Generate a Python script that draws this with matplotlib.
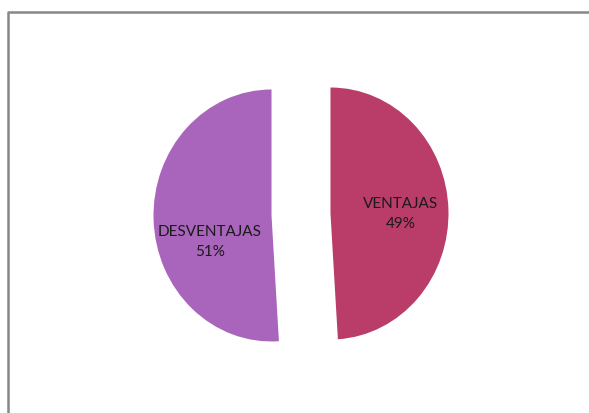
import matplotlib.pyplot as plt

labels = ['VENTAJAS', 'DESVENTAJAS']
values = [49, 51]
colors = ['#BA3C68', '#A965BC']

W, H = 589, 414
fig = plt.figure(figsize=(W / 100, H / 100), dpi=100)

ax = fig.add_axes([0, 0, 1, 1])
ax.pie(values, colors=colors, startangle=90, counterclock=False,
       explode=[0.25, 0.25], radius=1,
       wedgeprops=dict(linewidth=0))

# pie centre at pixel (301, 215.5), 118 px per unit across, 126 px per unit down
cx, cy, sx, sy = 301, 215.5, 118, 126
ax.set_aspect('auto')
ax.set_xlim(-cx / sx, (W - cx) / sx)
ax.set_ylim((cy - H) / sy, cy / sy)
ax.axis('off')

# chart frame: only the left and top edges fall inside the picture
x0, x1 = ax.get_xlim()
y0, y1 = ax.get_ylim()
fx = x0 + 8.5 / sx
fy = y1 - 12.5 / sy
ax.plot([fx, fx, x1 + 1], [y0 - 1, fy, fy], color='#878787', linewidth=1.8,
        clip_on=False)
ax.set_xlim(x0, x1)
ax.set_ylim(y0, y1)

font = dict(family=['Lato', 'DejaVu Sans'], fontsize=11, color='#1a1a1a',
            ha='center', va='center', linespacing=1.6)
ax.text((401 - cx) / sx, (cy - 214) / sy, f'{labels[0]}\n{values[0]}%', **font)
ax.text((210 - cx) / sx, (cy - 242) / sy, f'{labels[1]}\n{values[1]}%', **font)

fig.savefig('out.png', dpi=100)
